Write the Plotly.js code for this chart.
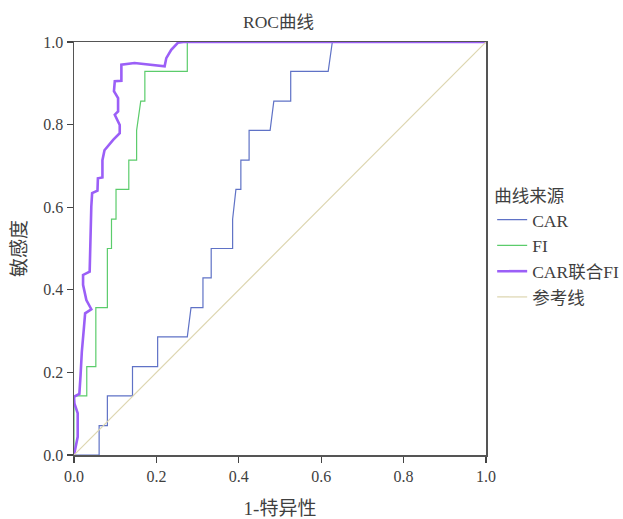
<!DOCTYPE html>
<html>
<head>
<meta charset="utf-8">
<script src="https://cdn.plot.ly/plotly-3.0.1.min.js"></script>
<style>html,body{margin:0;padding:0;background:#fff;}#chart{width:623px;height:519px;}</style>
</head>
<body>
<div id="chart"></div>
<script>
// Series names
var seriesNames = ["CAR", "FI", "CAR联合FI", "参考线"];

// CAR curve (1-特异性, 敏感度)
var carX = [0, 0.061, 0.061, 0.081, 0.081, 0.142, 0.142, 0.203, 0.203, 0.275, 0.284, 0.313, 0.313, 0.333, 0.333, 0.385, 0.385, 0.393, 0.405, 0.405, 0.425, 0.425, 0.476, 0.485, 0.526, 0.526, 0.617, 0.627, 1];
var carY = [0, 0, 0.071, 0.071, 0.143, 0.143, 0.214, 0.214, 0.286, 0.286, 0.357, 0.357, 0.429, 0.429, 0.5, 0.5, 0.571, 0.643, 0.643, 0.714, 0.714, 0.786, 0.786, 0.857, 0.857, 0.929, 0.929, 1, 1];

// FI curve
var fiX = [0, 0, 0.031, 0.031, 0.053, 0.053, 0.081, 0.081, 0.091, 0.091, 0.102, 0.102, 0.133, 0.133, 0.152, 0.152, 0.162, 0.172, 0.172, 0.275, 0.275, 1];
var fiY = [0, 0.143, 0.143, 0.214, 0.214, 0.357, 0.357, 0.5, 0.5, 0.571, 0.571, 0.643, 0.643, 0.714, 0.714, 0.786, 0.857, 0.857, 0.929, 0.929, 1, 1];

// CAR联合FI curve
var combX = [0, 0.009, 0.009, 0.001, 0, 0.013, 0.016, 0.019, 0.024, 0.027, 0.042, 0.030, 0.022, 0.022, 0.038, 0.039, 0.042, 0.044, 0.057, 0.058, 0.069, 0.069, 0.074, 0.095, 0.111, 0.111, 0.099, 0.107, 0.107, 0.097, 0.099, 0.115, 0.115, 0.147, 0.188, 0.220, 0.224, 0.236, 0.252, 0.265, 1];
var combY = [0, 0.044, 0.101, 0.125, 0.141, 0.148, 0.194, 0.25, 0.307, 0.343, 0.353, 0.375, 0.412, 0.436, 0.444, 0.496, 0.601, 0.634, 0.640, 0.670, 0.672, 0.714, 0.738, 0.763, 0.779, 0.799, 0.824, 0.832, 0.864, 0.881, 0.905, 0.906, 0.945, 0.949, 0.945, 0.941, 0.961, 0.981, 0.998, 1, 1];

// Reference diagonal
var refX = [0, 1];
var refY = [0, 1];

var tickVals = [0, 0.2, 0.4, 0.6, 0.8, 1.0];

var fontFam = "'Liberation Serif', 'Noto Sans CJK SC', serif";
var txtColor = '#3f3f3f';

var traces = [
  {x: carX, y: carY, name: seriesNames[0], mode: 'lines', line: {color: '#5f72c6', width: 1.2}},
  {x: fiX, y: fiY, name: seriesNames[1], mode: 'lines', line: {color: '#5bcc6b', width: 1.2}},
  {x: combX, y: combY, name: seriesNames[2], mode: 'lines', line: {color: '#9b5ff7', width: 2.6}},
  {x: refX, y: refY, name: seriesNames[3], mode: 'lines', line: {color: '#ddd6b0', width: 1.2}}
];

var axisCommon = {
  range: [0, 1],
  tickvals: tickVals,
  tickformat: '.1f',
  ticks: 'outside',
  ticklen: 6,
  tickwidth: 1.2,
  tickcolor: '#444',
  showline: true,
  linecolor: '#555',
  linewidth: 1.5,
  mirror: true,
  showgrid: false,
  zeroline: false,
  automargin: false,
  tickfont: {family: fontFam, size: 16, color: txtColor}
};

var layout = {
  width: 623,
  height: 519,
  margin: {l: 74, r: 137, t: 42, b: 64},
  paper_bgcolor: '#fff',
  plot_bgcolor: '#fff',
  font: {family: fontFam, color: txtColor},
  title: {text: 'ROC曲线', x: 0.447, xref: 'container', xanchor: 'center', y: 0.958, yanchor: 'middle', font: {family: fontFam, size: 17.5, color: txtColor}},
  xaxis: Object.assign({}, axisCommon, {title: {text: '1-特异性', font: {family: fontFam, size: 19, color: txtColor}, standoff: 18}}),
  yaxis: Object.assign({}, axisCommon, {title: {text: '敏感度', font: {family: fontFam, size: 19, color: txtColor}, standoff: 11}}),
  showlegend: true,
  legend: {
    xref: 'container', yref: 'container',
    x: 0.79, xanchor: 'left', y: 0.655, yanchor: 'top',
    title: {text: '曲线来源', font: {family: fontFam, size: 17.5, color: txtColor}},
    font: {family: fontFam, size: 17.5, color: txtColor},
    itemwidth: 30,
    bgcolor: 'rgba(0,0,0,0)'
  }
};

Plotly.newPlot('chart', traces, layout, {displayModeBar: false, staticPlot: true});
</script>
</body>
</html>
